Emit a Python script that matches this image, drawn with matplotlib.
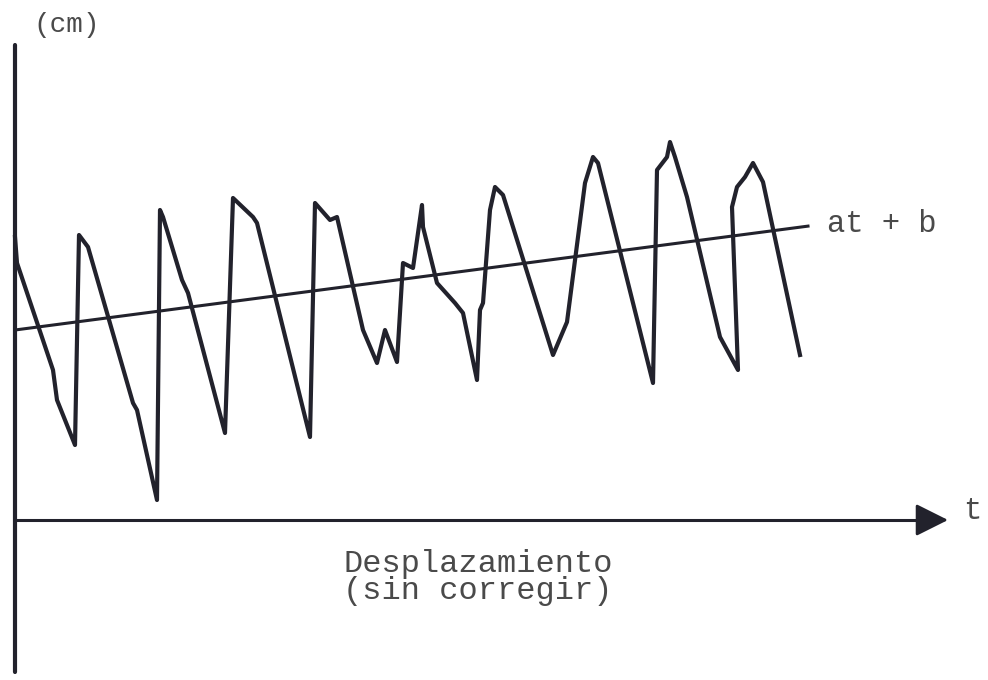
import matplotlib
matplotlib.use("Agg")
import matplotlib.pyplot as plt
import numpy as np

# Recorded displacement (cm) versus time (s), uncorrected
t = [0.00, 0.02, 0.38, 0.42, 0.60, 0.64, 0.73, 1.18, 1.22, 1.42,
     1.45, 1.48, 1.67, 1.73, 2.10, 2.18, 2.38, 2.42, 2.95, 3.00,
     3.15, 3.22, 3.48, 3.62, 3.70, 3.82, 3.88, 3.98, 4.07, 4.08,
     4.22, 4.40, 4.48, 4.62, 4.65, 4.68, 4.75, 4.80, 4.88, 5.38,
     5.52, 5.70, 5.78, 5.83, 6.38, 6.42, 6.52, 6.55, 6.60, 6.72,
     7.05, 7.23, 7.17, 7.22, 7.30, 7.38, 7.48, 7.85]
disp = [2.83, 2.57, 1.50, 1.20, 0.75, 2.85, 2.73, 1.17, 1.10, 0.20,
        3.10, 3.03, 2.40, 2.27, 0.87, 3.22, 3.03, 2.97, 0.83, 3.17,
        3.00, 3.03, 1.90, 1.57, 1.90, 1.58, 2.57, 2.52, 3.15, 2.93,
        2.37, 2.17, 2.07, 1.40, 2.10, 2.17, 3.10, 3.33, 3.25, 1.65,
        1.98, 3.37, 3.63, 3.57, 1.37, 3.50, 3.63, 3.78, 3.63, 3.23,
        1.83, 1.50, 3.13, 3.33, 3.43, 3.57, 3.38, 1.65]

# Linear trend  at + b
a = 0.131
b = 1.90
t_trend = [0.0, 7.93]

font = "Liberation Mono"
ink = "#22222c"
txt = "#4a4a4a"

fig = plt.figure(figsize=(9.88, 6.80), dpi=100)
ax = fig.add_axes([0, 0, 1, 1])
ax.set_xlim(-0.15, 9.73)
ax.set_ylim(-1.60, 5.20)
ax.axis("off")

# axes drawn by hand
ax.plot([0, 0], [-1.52, 4.75], color=ink, lw=3.0, solid_capstyle="round")
ax.plot([0, 9.15], [0, 0], color=ink, lw=2.2)
ax.annotate("", xy=(9.33, 0), xytext=(9.05, 0),
            arrowprops=dict(arrowstyle="-|>,head_length=1.0,head_width=0.5",
                            color=ink, lw=2.0, mutation_scale=20,
                            shrinkA=0, shrinkB=0))

# signal and trend
ax.plot(t, disp, color=ink, lw=3.0, solid_joinstyle="round")
ax.plot(t_trend, [a * x + b for x in t_trend], color=ink, lw=2.2)

ax.text(0.52, 4.95, "(cm)", family=font, fontsize=20, color=txt,
        ha="center", va="center")
ax.text(9.57, 0.09, "t", family=font, fontsize=22, color=txt,
        ha="center", va="center")
ax.text(8.12, 2.96, "at + b", family=font, fontsize=22, color=txt,
        ha="left", va="center")
ax.text(4.63, -0.44, "Desplazamiento", family=font, fontsize=23, color=txt,
        ha="center", va="center")
ax.text(4.63, -0.71, "(sin corregir)", family=font, fontsize=23, color=txt,
        ha="center", va="center")

fig.savefig("out.png", dpi=100)
